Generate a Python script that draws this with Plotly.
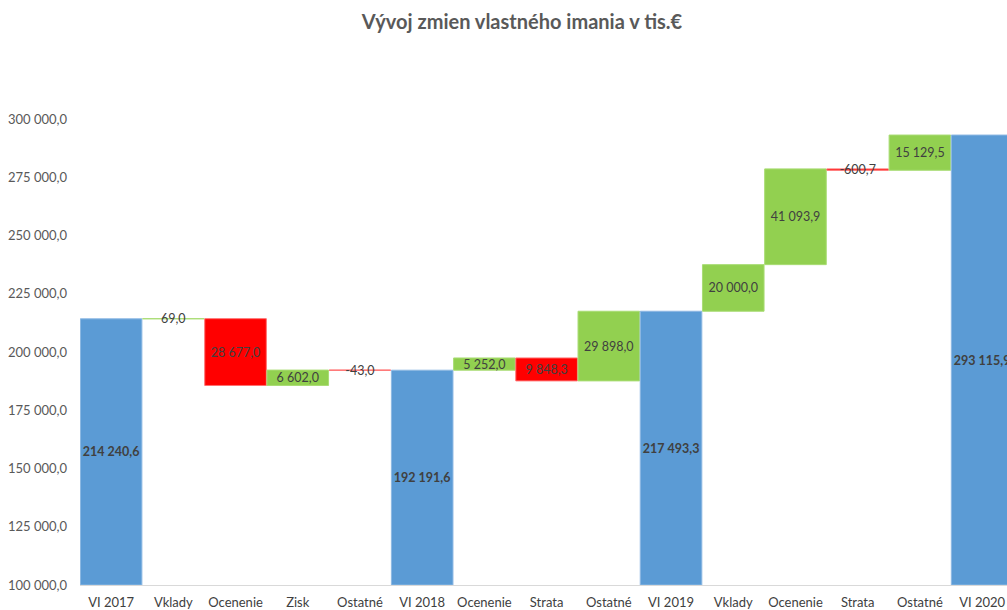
import plotly.graph_objects as go

categories = ["VI 2017", "Vklady", "Ocenenie", "Zisk", "Ostatné",
              "VI 2018", "Ocenenie", "Strata", "Ostatné",
              "VI 2019", "Vklady", "Ocenenie", "Strata", "Ostatné", "VI 2020"]
values = [214240.6, 69.0, -28677.0, 6602.0, -43.0,
          192191.6, 5252.0, -9848.3, 29898.0,
          217493.3, 20000.0, 41093.9, -600.7, 15129.5, 293115.9]
kinds = ["total", "delta", "delta", "delta", "delta",
         "total", "delta", "delta", "delta",
         "total", "delta", "delta", "delta", "delta", "total"]
y_ticks = [100000, 125000, 150000, 175000, 200000, 225000, 250000, 275000, 300000]

Y_MIN, Y_MAX = y_ticks[0], y_ticks[-1]

COL_TOTAL, COL_UP, COL_DOWN = "#5B9BD5", "#92D050", "#FF0000"
LINE_TOTAL, LINE_UP, LINE_DOWN = "#8DB8E3", "#A9DC74", "#FF7070"


def fmt(v):
    return f"{abs(v):,.1f}".replace(",", " ").replace(".", ",")


bases, lengths, colors, lines, labels = [], [], [], [], []
running = 0.0
for v, k in zip(values, kinds):
    if k == "total":
        running = v
        bases.append(Y_MIN)
        lengths.append(v - Y_MIN)
        colors.append(COL_TOTAL)
        lines.append(LINE_TOTAL)
        labels.append(f"<b>{fmt(v)}</b>")
    else:
        bases.append(running)
        lengths.append(v)
        running += v
        colors.append(COL_UP if v >= 0 else COL_DOWN)
        lines.append(LINE_UP if v >= 0 else LINE_DOWN)
        labels.append(("-" if (v < 0 and abs(v) < 1000) else "") + fmt(v))

x_pos = list(range(len(categories)))

fig = go.Figure(go.Bar(
    x=x_pos,
    y=lengths,
    base=bases,
    width=0.99,
    marker=dict(color=colors, line=dict(color=lines, width=1)),
    text=labels,
    textposition="inside",
    insidetextanchor="middle",
    textangle=0,
    textfont=dict(family="Lato", size=12.5, color="#404040"),
    cliponaxis=True,
    hoverinfo="skip",
))

W, H = 1007, 610

fig.update_layout(
    width=W, height=H,
    margin=dict(l=80, r=0, t=119, b=25, autoexpand=False),
    paper_bgcolor="white", plot_bgcolor="white",
    showlegend=False,
    uniformtext=dict(minsize=12.5, mode="show"),
    title=dict(text="<b>Vývoj zmien vlastného imania v tis.€</b>",
               x=522 / W, xanchor="center",
               y=1 - 22 / H, yanchor="middle",
               xref="container", yref="container",
               font=dict(family="Lato", size=20, color="#595959")),
    font=dict(family="Lato", color="#595959"),
)

fig.update_xaxes(
    range=[-0.5, 14.4],
    tickvals=x_pos, ticktext=categories,
    tickfont=dict(family="Lato", size=13, color="#404040"),
    showgrid=False, zeroline=False,
    showline=True, linecolor="#D9D9D9", linewidth=1,
    ticks="", ticklabelstandoff=5,
)
fig.update_yaxes(
    range=[Y_MIN, Y_MAX],
    tickvals=y_ticks, ticktext=[fmt(t) for t in y_ticks],
    tickfont=dict(family="Lato", size=13, color="#595959"),
    showgrid=False, zeroline=False, showline=False,
    ticks="", ticklabelstandoff=12,
)

fig.write_html(
    "out.html",
    config={"displayModeBar": False},
    post_script="document.body.style.margin='0';document.body.style.overflow='hidden';",
)
